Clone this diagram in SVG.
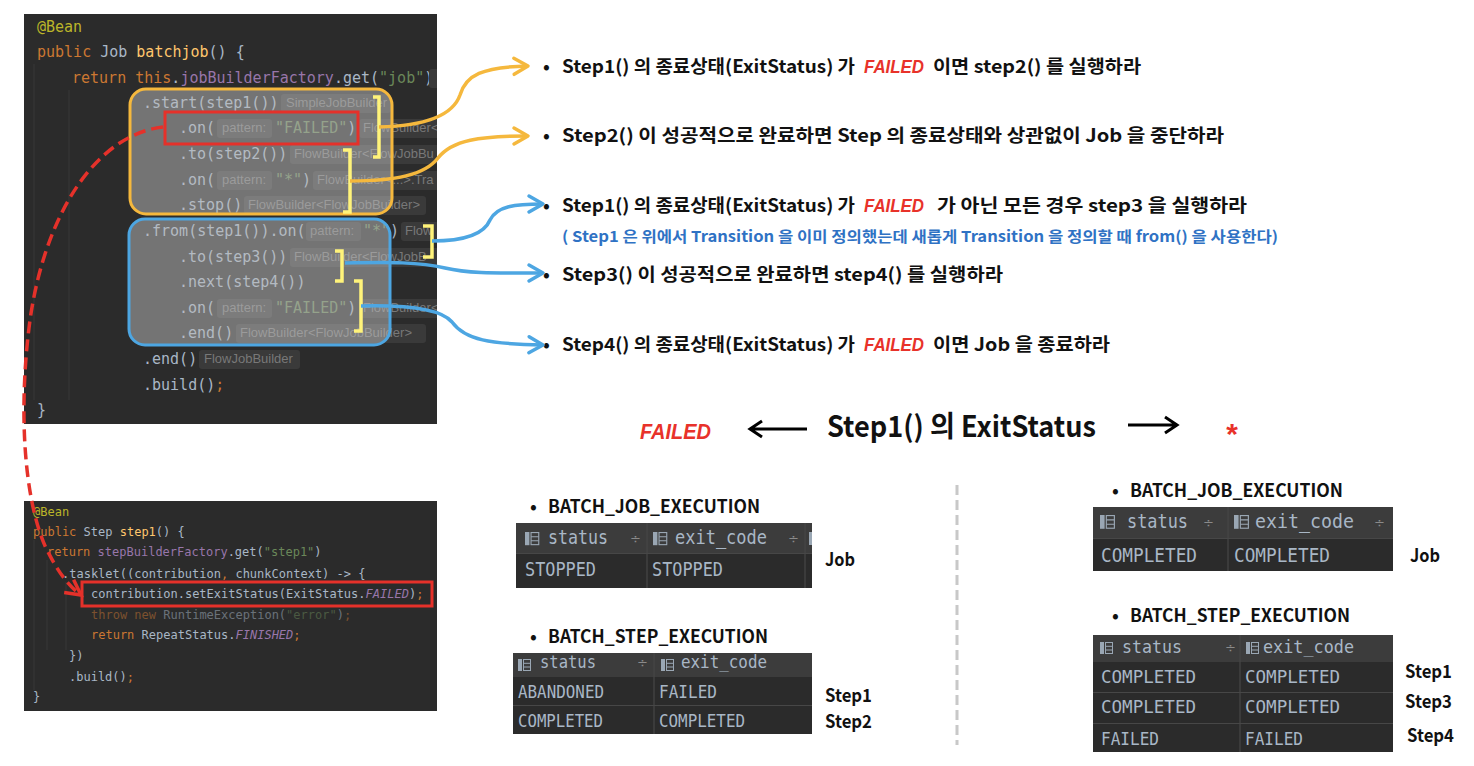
<svg xmlns="http://www.w3.org/2000/svg" width="1474" height="766" viewBox="0 0 1474 766">
<style>
.c{font-family:"DejaVu Sans Mono",monospace;font-size:15px;fill:#a9b7c6}
.c2{font-family:"DejaVu Sans Mono",monospace;font-size:12px;fill:#a9b7c6}
.kw{fill:#cc7832}.fn{fill:#ffc66d}.str{fill:#6a8759}.ann{fill:#bbb529}.fld{fill:#9876aa}.it{font-style:italic}
.h{font-family:"Liberation Sans",sans-serif;font-size:13px;fill:#787878}
.hb{fill:#3a3a3a}
.ov{fill:#bdbdbd;fill-opacity:0.5}
.br{fill:none;stroke:#fff37a;stroke-width:3.5}
.t{font-family:"Noto Sans CJK KR","Noto Sans",sans-serif;font-weight:700;font-size:18px;fill:#111}
.tt{font-family:"Noto Sans CJK KR","Noto Sans",sans-serif;font-weight:700;font-size:29px;fill:#111}
.n{font-family:"Noto Sans CJK KR","Noto Sans",sans-serif;font-weight:700;font-size:15px;fill:#2f72c4}
.f{font-family:"Liberation Sans",sans-serif;font-style:italic;font-weight:700;fill:#e8322a}
.tb{font-family:"DejaVu Sans Mono",monospace;fill:#a9b7c6}
.so{font-family:"DejaVu Sans",sans-serif;font-size:13px;fill:#8a8a8a}
.hdr{fill:#3c3c3c}.row{fill:#2b2b2b}
.dv{stroke:#474747;stroke-width:1.2}
.cy{fill:none;stroke:#f5b83d;stroke-width:3.5}
.cb{fill:none;stroke:#4da6e2;stroke-width:3.5}
</style>
<defs>
<clipPath id="clipTop"><rect x="24" y="14" width="413" height="410"/></clipPath>
<clipPath id="clipBot"><rect x="24" y="501" width="413" height="210"/></clipPath>
<marker id="ay" markerUnits="userSpaceOnUse" markerWidth="24" markerHeight="24" viewBox="-18 -12 24 24" refX="0" refY="0" orient="auto"><path d="M-14,-8 L0,0 L-14,8" fill="none" stroke="#f5b83d" stroke-width="3.5" stroke-linecap="round" stroke-linejoin="round"/></marker>
<marker id="ab" markerUnits="userSpaceOnUse" markerWidth="24" markerHeight="24" viewBox="-18 -12 24 24" refX="0" refY="0" orient="auto"><path d="M-14,-8 L0,0 L-14,8" fill="none" stroke="#4da6e2" stroke-width="3.5" stroke-linecap="round" stroke-linejoin="round"/></marker>
<marker id="ar" markerUnits="userSpaceOnUse" markerWidth="24" markerHeight="24" viewBox="-18 -12 24 24" refX="0" refY="0" orient="auto"><path d="M-15,-8 L0,0 L-15,8" fill="none" stroke="#e5312a" stroke-width="3.5" stroke-linejoin="miter"/></marker>
<g id="ti"><rect x="0" y="0" width="4" height="12" fill="#9aa7b4"/><rect x="5.5" y="0.5" width="7" height="11" fill="none" stroke="#9aa7b4" stroke-width="1"/><path d="M5.5,4.3 H12.5 M5.5,8 H12.5" stroke="#9aa7b4" stroke-width="1"/></g>
</defs>
<rect width="1474" height="766" fill="#ffffff"/>

<g id="code-batchjob" clip-path="url(#clipTop)">
<rect x="24" y="14" width="413" height="410" fill="#2b2b2b"/>
<path d="M34,64 V400 M69,90 V400" stroke="#383838" stroke-width="1"/>
<text class="c ann" x="37" y="32">@Bean</text>
<text class="c" x="37" y="57"><tspan class="kw">public</tspan> Job <tspan class="fn">batchjob</tspan>() {</text>
<text class="c" x="72" y="83"><tspan class="kw">return this</tspan>.<tspan class="fld">jobBuilderFactory</tspan>.get(<tspan class="str">"job"</tspan>)</text>
<rect class="hb" x="429" y="69" width="30" height="19" rx="3"/>
<text class="c" x="143" y="108">.start(step1())</text>
<rect class="hb" x="281" y="94" width="110" height="19" rx="3"/><text class="h" x="286" y="107">SimpleJobBuilder</text>
<text class="c" x="179" y="133">.on(</text>
<rect class="hb" x="217" y="119" width="55" height="19" rx="3"/><text class="h" x="222" y="132">pattern:</text>
<text class="c" x="275" y="133"><tspan class="str">"FAILED"</tspan>)</text>
<rect class="hb" x="359" y="119" width="90" height="19" rx="3"/><text class="h" x="363" y="132">FlowBuilder&lt;</text>
<text class="c" x="179" y="159">.to(step2())</text>
<rect class="hb" x="290" y="145" width="160" height="19" rx="3"/><text class="h" x="294" y="158">FlowBuilder&lt;FlowJobBu</text>
<text class="c" x="179" y="185">.on(</text>
<rect class="hb" x="217" y="171" width="55" height="19" rx="3"/><text class="h" x="222" y="184">pattern:</text>
<text class="c" x="275" y="185"><tspan class="str">"*"</tspan>)</text>
<rect class="hb" x="313" y="171" width="140" height="19" rx="3"/><text class="h" x="317" y="184">FlowBuilder&lt;...&gt;.Tra</text>
<text class="c" x="179" y="210">.stop()</text>
<rect class="hb" x="244" y="196" width="182" height="19" rx="3"/><text class="h" x="248" y="209">FlowBuilder&lt;FlowJobBuilder&gt;</text>
<text class="c" x="143" y="236">.from(step1()).on(</text>
<rect class="hb" x="306" y="222" width="55" height="19" rx="3"/><text class="h" x="310" y="235">pattern:</text>
<text class="c" x="363" y="236"><tspan class="str">"*"</tspan>)</text>
<rect class="hb" x="401" y="222" width="60" height="19" rx="3"/><text class="h" x="405" y="235">Flow</text>
<text class="c" x="179" y="262">.to(step3())</text>
<rect class="hb" x="290" y="248" width="160" height="19" rx="3"/><text class="h" x="294" y="261">FlowBuilder&lt;FlowJobB</text>
<text class="c" x="179" y="287">.next(step4())</text>
<text class="c" x="179" y="313">.on(</text>
<rect class="hb" x="217" y="299" width="55" height="19" rx="3"/><text class="h" x="222" y="312">pattern:</text>
<text class="c" x="275" y="313"><tspan class="str">"FAILED"</tspan>)</text>
<rect class="hb" x="359" y="299" width="90" height="19" rx="3"/><text class="h" x="363" y="312">FlowBuilder&lt;</text>
<text class="c" x="179" y="338">.end()</text>
<rect class="hb" x="236" y="324" width="190" height="19" rx="3"/><text class="h" x="240" y="337">FlowBuilder&lt;FlowJobBuilder&gt;</text>
<text class="c" x="143" y="364">.end()</text>
<rect class="hb" x="199" y="350" width="101" height="19" rx="3"/><text class="h" x="204" y="363">FlowJobBuilder</text>
<text class="c" x="143" y="390">.build()<tspan class="kw">;</tspan></text>
<text class="c" x="37" y="415">}</text>
<rect class="ov" x="130" y="89" width="262" height="125" rx="16"/>
<rect class="ov" x="129" y="219" width="261" height="126" rx="16"/>
<rect x="130" y="89" width="262" height="125" rx="16" fill="none" stroke="#f5b83d" stroke-width="3"/>
<rect x="129" y="219" width="261" height="126" rx="16" fill="none" stroke="#4da6e2" stroke-width="3"/>
<rect x="165" y="112" width="193" height="32" fill="none" stroke="#e5312a" stroke-width="3"/>
<path class="br" d="M373,97 H379 V157 H373"/>
<path class="br" d="M343,150 H350 V212 H343"/>
<path class="br" d="M423,226 H432 V257 H423"/>
<path class="br" d="M335,251 H342 V281 H335"/>
<path class="br" d="M354,281 H361 V331 H354"/>
</g>

<g id="code-step1" clip-path="url(#clipBot)">
<rect x="24" y="501" width="413" height="210" fill="#2b2b2b"/>
<path d="M34,540 V690 M47,560 V650 M66,582 V650" stroke="#383838" stroke-width="1"/>
<text class="c2 ann" x="33" y="516">@Bean</text>
<text class="c2" x="33" y="536"><tspan class="kw">public</tspan> Step <tspan class="fn">step1</tspan>() {</text>
<text class="c2" x="47" y="556"><tspan class="kw">return</tspan> <tspan class="fld">stepBuilderFactory</tspan>.get(<tspan class="str">"step1"</tspan>)</text>
<text class="c2" x="62" y="578">.tasklet((contribution<tspan class="kw">,</tspan> chunkContext) -&gt; {</text>
<text class="c2" x="91" y="598">contribution.setExitStatus(ExitStatus.<tspan class="fld it">FAILED</tspan>)<tspan class="kw">;</tspan></text>
<text class="c2" x="91" y="619" opacity="0.5"><tspan class="kw">throw new</tspan> RuntimeException(<tspan class="str">"error"</tspan>)<tspan class="kw">;</tspan></text>
<text class="c2" x="91" y="639"><tspan class="kw">return</tspan> RepeatStatus.<tspan class="fld it">FINISHED</tspan><tspan class="kw">;</tspan></text>
<text class="c2" x="69" y="660">})</text>
<text class="c2" x="69" y="681">.build()<tspan class="kw">;</tspan></text>
<text class="c2" x="33" y="701">}</text>
<rect x="82" y="582" width="350" height="24" fill="none" stroke="#e5312a" stroke-width="3"/>
</g>

<g id="notes">
<text class="t" x="543" y="73">•</text>
<text class="t" x="562" y="73" textLength="293" lengthAdjust="spacingAndGlyphs">Step1() 의 종료상태(ExitStatus) 가</text>
<text class="f" x="864" y="73" font-size="19" textLength="60" lengthAdjust="spacingAndGlyphs">FAILED</text>
<text class="t" x="933" y="73" textLength="208" lengthAdjust="spacingAndGlyphs">이면 step2() 를 실행하라</text>

<text class="t" x="543" y="142">•</text>
<text class="t" x="562" y="142" textLength="662" lengthAdjust="spacingAndGlyphs">Step2() 이 성공적으로 완료하면 Step 의 종료상태와 상관없이 Job 을 중단하라</text>

<text class="t" x="543" y="212">•</text>
<text class="t" x="562" y="212" textLength="293" lengthAdjust="spacingAndGlyphs">Step1() 의 종료상태(ExitStatus) 가</text>
<text class="f" x="864" y="212" font-size="19" textLength="60" lengthAdjust="spacingAndGlyphs">FAILED</text>
<text class="t" x="937" y="212" textLength="310" lengthAdjust="spacingAndGlyphs">가 아닌 모든 경우 step3 을 실행하라</text>
<text class="n" x="562" y="242" textLength="716" lengthAdjust="spacingAndGlyphs">( Step1 은 위에서 Transition 을 이미 정의했는데 새롭게 Transition 을 정의할 때 from() 을 사용한다)</text>

<text class="t" x="543" y="281">•</text>
<text class="t" x="562" y="281" textLength="441" lengthAdjust="spacingAndGlyphs">Step3() 이 성공적으로 완료하면 step4() 를 실행하라</text>

<text class="t" x="543" y="351">•</text>
<text class="t" x="562" y="351" textLength="293" lengthAdjust="spacingAndGlyphs">Step4() 의 종료상태(ExitStatus) 가</text>
<text class="f" x="864" y="351" font-size="19" textLength="60" lengthAdjust="spacingAndGlyphs">FAILED</text>
<text class="t" x="933" y="351" textLength="177" lengthAdjust="spacingAndGlyphs">이면 Job 을 종료하라</text>
</g>

<g id="title">
<text class="f" x="640" y="439" font-size="22" textLength="71" lengthAdjust="spacingAndGlyphs">FAILED</text>
<path d="M807,429 H752 M762,421 L750,429 L762,437" fill="none" stroke="#000" stroke-width="3"/>
<text class="tt" x="827" y="437" textLength="269" lengthAdjust="spacingAndGlyphs">Step1() 의 ExitStatus</text>
<path d="M1128,425 H1175 M1165,417 L1177,425 L1165,433" fill="none" stroke="#000" stroke-width="3"/>
<text class="f" x="1225" y="444" font-size="30">*</text>
</g>

<path id="divider" d="M957,485 V745" stroke="#c8c8c8" stroke-width="3" stroke-dasharray="10 5"/>

<g id="table-left-job">
<text class="t" x="530" y="513">•</text>
<text class="t" x="548" y="513" textLength="212" lengthAdjust="spacingAndGlyphs">BATCH_JOB_EXECUTION</text>
<rect class="hdr" x="516" y="523" width="296" height="30"/>
<rect class="row" x="516" y="553" width="296" height="35"/>
<path class="dv" d="M647,523 V588 M805,523 V588 M516,553.5 H812"/>
<use href="#ti" transform="translate(525,532) scale(1.1)"/>
<text class="tb" x="548" y="544" font-size="19" textLength="60" lengthAdjust="spacingAndGlyphs">status</text>
<text class="so" x="630" y="543">÷</text>
<use href="#ti" transform="translate(653,532) scale(1.1)"/>
<text class="tb" x="675" y="544" font-size="19" textLength="92" lengthAdjust="spacingAndGlyphs">exit_code</text>
<text class="so" x="788" y="543">÷</text>
<rect x="809" y="532" width="3" height="13" fill="#9aa7b4"/>
<text class="tb" x="525" y="576" font-size="20" textLength="71" lengthAdjust="spacingAndGlyphs">STOPPED</text>
<text class="tb" x="652" y="576" font-size="20" textLength="71" lengthAdjust="spacingAndGlyphs">STOPPED</text>
<text class="t" x="825" y="566" textLength="30" lengthAdjust="spacingAndGlyphs">Job</text>
</g>

<g id="table-left-step">
<text class="t" x="530" y="643">•</text>
<text class="t" x="548" y="643" textLength="220" lengthAdjust="spacingAndGlyphs">BATCH_STEP_EXECUTION</text>
<rect class="hdr" x="513" y="653" width="299" height="24"/>
<rect class="row" x="513" y="677" width="299" height="57"/>
<path class="dv" d="M654,653 V734 M513,705.5 H812"/>
<use href="#ti" transform="translate(518,659)"/>
<text class="tb" x="540" y="668" font-size="17" textLength="56" lengthAdjust="spacingAndGlyphs">status</text>
<text class="so" x="637" y="667">÷</text>
<use href="#ti" transform="translate(661,659)"/>
<text class="tb" x="681" y="668" font-size="17" textLength="86" lengthAdjust="spacingAndGlyphs">exit_code</text>
<text class="tb" x="518" y="698" font-size="18" textLength="86" lengthAdjust="spacingAndGlyphs">ABANDONED</text>
<text class="tb" x="659" y="698" font-size="18" textLength="58" lengthAdjust="spacingAndGlyphs">FAILED</text>
<text class="tb" x="518" y="727" font-size="18" textLength="85" lengthAdjust="spacingAndGlyphs">COMPLETED</text>
<text class="tb" x="659" y="727" font-size="18" textLength="86" lengthAdjust="spacingAndGlyphs">COMPLETED</text>
<text class="t" x="825" y="702" textLength="47" lengthAdjust="spacingAndGlyphs">Step1</text>
<text class="t" x="825" y="728" textLength="47" lengthAdjust="spacingAndGlyphs">Step2</text>
</g>

<g id="table-right-job">
<text class="t" x="1112" y="497">•</text>
<text class="t" x="1130" y="497" textLength="213" lengthAdjust="spacingAndGlyphs">BATCH_JOB_EXECUTION</text>
<rect class="hdr" x="1093" y="507" width="300" height="31"/>
<rect class="row" x="1093" y="538" width="300" height="33"/>
<path class="dv" d="M1228,507 V571 M1093,538.5 H1393"/>
<use href="#ti" transform="translate(1100,515) scale(1.15)"/>
<text class="tb" x="1127" y="528" font-size="19" textLength="61" lengthAdjust="spacingAndGlyphs">status</text>
<text class="so" x="1203" y="527">÷</text>
<use href="#ti" transform="translate(1234,515) scale(1.15)"/>
<text class="tb" x="1255" y="528" font-size="19" textLength="99" lengthAdjust="spacingAndGlyphs">exit_code</text>
<text class="so" x="1374" y="527">÷</text>
<text class="tb" x="1101" y="562" font-size="19" textLength="96" lengthAdjust="spacingAndGlyphs">COMPLETED</text>
<text class="tb" x="1234" y="562" font-size="19" textLength="96" lengthAdjust="spacingAndGlyphs">COMPLETED</text>
<text class="t" x="1410" y="562" textLength="30" lengthAdjust="spacingAndGlyphs">Job</text>
</g>

<g id="table-right-step">
<text class="t" x="1112" y="622">•</text>
<text class="t" x="1130" y="622" textLength="220" lengthAdjust="spacingAndGlyphs">BATCH_STEP_EXECUTION</text>
<rect class="hdr" x="1093" y="635" width="300" height="27"/>
<rect class="row" x="1093" y="662" width="300" height="90"/>
<path class="dv" d="M1240,635 V752 M1093,692.5 H1393 M1093,723.5 H1393"/>
<use href="#ti" transform="translate(1100,642)"/>
<text class="tb" x="1122" y="653" font-size="17" textLength="60" lengthAdjust="spacingAndGlyphs">status</text>
<text class="so" x="1225" y="652">÷</text>
<use href="#ti" transform="translate(1246,642)"/>
<text class="tb" x="1263" y="653" font-size="17" textLength="91" lengthAdjust="spacingAndGlyphs">exit_code</text>
<text class="tb" x="1101" y="683" font-size="18" textLength="95" lengthAdjust="spacingAndGlyphs">COMPLETED</text>
<text class="tb" x="1245" y="683" font-size="18" textLength="95" lengthAdjust="spacingAndGlyphs">COMPLETED</text>
<text class="tb" x="1101" y="713" font-size="18" textLength="95" lengthAdjust="spacingAndGlyphs">COMPLETED</text>
<text class="tb" x="1245" y="713" font-size="18" textLength="95" lengthAdjust="spacingAndGlyphs">COMPLETED</text>
<text class="tb" x="1101" y="745" font-size="18" textLength="58" lengthAdjust="spacingAndGlyphs">FAILED</text>
<text class="tb" x="1245" y="745" font-size="18" textLength="58" lengthAdjust="spacingAndGlyphs">FAILED</text>
<text class="t" x="1405" y="678" textLength="47" lengthAdjust="spacingAndGlyphs">Step1</text>
<text class="t" x="1405" y="708" textLength="47" lengthAdjust="spacingAndGlyphs">Step3</text>
<text class="t" x="1407" y="742" textLength="47" lengthAdjust="spacingAndGlyphs">Step4</text>
</g>

<g id="connectors">
<path class="cy" d="M379,127 C420,126 452,118 460,95 C466,75 482,67 528,66" marker-end="url(#ay)"/>
<path class="cy" d="M350,181 C395,181 425,175 438,158 C452,140 480,136 528,136" marker-end="url(#ay)"/>
<path class="cb" d="M432,241 C470,241 485,232 490,220 C497,206 515,204 543,204" marker-end="url(#ab)"/>
<path class="cb" d="M345,263 C390,262 420,262 445,268 C470,274 500,273 543,273" marker-end="url(#ab)"/>
<path class="cb" d="M361,306 C400,305 440,308 452,322 C465,340 490,344 543,345" marker-end="url(#ab)"/>
<path d="M163,127 C95,135 45,215 30,320 C18,410 24,500 46,548 C56,568 66,584 81,595" fill="none" stroke="#e5312a" stroke-width="3.5" stroke-dasharray="12 6" marker-end="url(#ar)"/>
</g>
</svg>
